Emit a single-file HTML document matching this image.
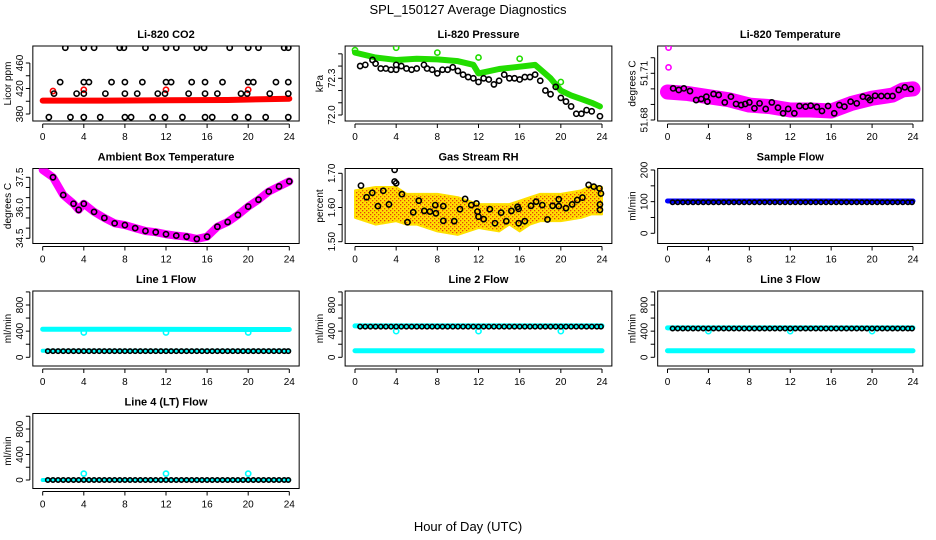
<!DOCTYPE html>
<html><head><meta charset="utf-8"><style>
html,body{margin:0;padding:0;background:#fff}
svg{display:block;font-family:"Liberation Sans",Arial,sans-serif}
</style></head><body>
<svg id="chart" width="936" height="540" viewBox="0 0 936 540">
<defs>
<pattern id="rhpat" width="4" height="4" patternUnits="userSpaceOnUse"><rect width="4" height="4" fill="#ffe000"/><rect x="0" y="0" width="1.3" height="1.3" fill="#e8400a"/><rect x="2" y="2" width="1.3" height="1.3" fill="#e8400a"/></pattern>
</defs>
<text x="468" y="14" font-size="13" text-anchor="middle">SPL_150127  Average Diagnostics</text>
<text x="468" y="531" font-size="13" text-anchor="middle">Hour of Day (UTC)</text>
</svg>
<script>
// ---- data ----
const xTicks=[0,4,8,12,16,20,24];
const co2BandH=[0,6,12,18,24];
const co2BandV=[401,401,401.5,402,404];
const co2RedH=[1,4,12,20];
const co2RedV=[416,418,418,418];
const co2BlkH=[2.2,4,5,7.5,7.9,10,12,13,15,15.7,18.2,20,21,23.5,23.9,1.7,4,4.5,6.7,8,9.7,12,12.5,14.5,15.8,17.5,20,20.5,22.7,23.9,1.1,3.3,4,6.1,8,9.2,11.2,11.9,14.2,15.8,17,19.3,19.9,22.1,23.9,0.6,2.7,4,5.6,8,8.6,10.7,11.9,13.6,15.8,16.5,18.7,20,21.7,23.9];
const co2BlkV=[484,484,484,484,484,484,484,484,484,484,484,484,484,484,484,430,430,430,430,430,430,430,430,430,430,430,430,430,430,430,412,412,412,412,412,412,412,412,412,412,412,412,412,412,412,375,375,375,375,375,375,375,375,375,375,375,375,375,375,375];
const presBandH=[0,2,4,6,8,10,11.5,12,14,16,17.5,19,20,21,22,23,23.8];
const presBandV=[72.51,72.47,72.45,72.46,72.455,72.44,72.41,72.34,72.376,72.395,72.41,72.3,72.2,72.16,72.13,72.1,72.07];
const presGrnH=[0,4,8,12,16,20];
const presGrnV=[72.53,72.55,72.51,72.47,72.46,72.27];
const presBlkH=[0.5,1,1.7,2,2.5,3,3.5,4,4,4.5,5,5.5,6,6.7,7,7.5,8,8.5,9,9.5,10,10.5,11,11.5,12,12.5,13,13.5,14,14.5,15,15.5,16,16.5,17,17.5,18,18.5,19,19.5,20,20.5,21,21.5,22,22.5,23,23.8];
const presBlkV=[72.4,72.41,72.45,72.42,72.38,72.38,72.37,72.41,72.37,72.4,72.38,72.37,72.38,72.41,72.38,72.37,72.34,72.37,72.37,72.39,72.36,72.33,72.31,72.3,72.27,72.3,72.29,72.25,72.28,72.33,72.3,72.3,72.29,72.31,72.31,72.33,72.28,72.2,72.17,72.23,72.14,72.11,72.07,72.01,72.01,72.04,72.03,71.99];
const tempBandH=[0,2,4,6,8,10,12,14,16,18,20,22,23,24];
const tempBandV=[51.698,51.697,51.695,51.693,51.6896,51.6886,51.6864,51.6864,51.6858,51.6907,51.694,51.696,51.6993,51.70];
const tempOutH=[0.1,0.1];
const tempOutV=[51.7265,51.7138];
const tempBlkH=[0.55,1.1,1.6,2.2,2.8,3.3,3.8,3.9,4.5,5,5.6,6.2,6.7,7.2,7.6,8,8.5,9,9.6,10.2,10.8,11.3,11.8,12.4,12.9,13.5,14,14.6,15.1,15.7,16.3,16.8,17.3,17.9,18.5,19.1,19.6,19.8,20.3,20.9,21.5,22,22.6,23.2,23.8];
const tempBlkV=[51.7003,51.6993,51.7003,51.6986,51.6928,51.6935,51.695,51.6918,51.6967,51.6961,51.6913,51.695,51.6903,51.6896,51.6903,51.6913,51.6875,51.6907,51.6871,51.6913,51.6879,51.6843,51.6871,51.6843,51.689,51.6886,51.6892,51.6884,51.6858,51.689,51.6843,51.6896,51.6886,51.6918,51.6907,51.695,51.6943,51.6928,51.6956,51.6954,51.6954,51.6954,51.6993,51.701,51.6999];
const ambH=[0,1,2,3,3.5,4,5,6,7,8,9,10,11,12,13,14,15,16,17,18,19,20,21,22,23,24];
const ambV=[37.86,37.5,36.63,36.2,35.9,36.2,35.8,35.5,35.24,35.15,35.0,34.86,34.8,34.7,34.63,34.58,34.47,34.58,35.07,35.3,35.65,36.06,36.4,36.8,37.05,37.3];
const rhHiH=[0,2,4,5,6,8,10,12,14,15,16,17,18,20,22,23,24];
const rhHiV=[1.65,1.66,1.66,1.64,1.64,1.64,1.63,1.61,1.61,1.61,1.62,1.63,1.64,1.64,1.65,1.665,1.66];
const rhLoV=[1.57,1.55,1.56,1.55,1.55,1.53,1.52,1.54,1.53,1.55,1.53,1.55,1.56,1.56,1.57,1.58,1.58];
const rhBlkH=[0.58,1.13,1.68,2.23,2.75,3.3,3.85,3.85,4,4.56,5.1,5.66,6.2,6.73,7.28,7.8,7.86,8.58,8.58,9.64,10.2,10.7,11.3,11.8,11.9,12,12.5,13.1,13.6,14.2,14.7,15.2,15.8,15.9,15.9,16.5,17.1,17.6,18.2,18.7,19.2,19.8,19.8,20.5,21.1,21.6,22.1,22.7,23.2,23.75,23.9,23.8,23.8];
const rhBlkV=[1.664,1.63,1.643,1.604,1.649,1.609,1.676,1.71,1.671,1.639,1.557,1.586,1.62,1.59,1.588,1.607,1.583,1.604,1.561,1.56,1.595,1.625,1.607,1.612,1.588,1.573,1.566,1.595,1.554,1.585,1.56,1.59,1.602,1.554,1.596,1.56,1.605,1.617,1.607,1.565,1.605,1.624,1.604,1.598,1.609,1.622,1.629,1.666,1.661,1.656,1.641,1.609,1.593];
const halfH=[0.5,1,1.5,2,2.5,3,3.5,4,4.5,5,5.5,6,6.5,7,7.5,8,8.5,9,9.5,10,10.5,11,11.5,12,12.5,13,13.5,14,14.5,15,15.5,16,16.5,17,17.5,18,18.5,19,19.5,20,20.5,21,21.5,22,22.5,23,23.5,23.9];
const flatH=[0,24];
const sampleBandV=[102,102];
const sampleBlkV=Array(48).fill(98);
const l1HiV=[430,425];const l1LoV=[100,100];const l1BlkV=Array(48).fill(95);
const l2HiV=[480,480];const l2LoV=[100,100];const l2BlkV=Array(48).fill(470);
const l3HiV=[450,450];const l3LoV=[100,100];const l3BlkV=Array(48).fill(440);
const l4LoV=[0,0];const l4BlkV=Array(48).fill(0);
const dipH=[4,12,20];
const l1DipV=[380,380,380];const l23DipV=[400,400,400];const l4DipV=[100,100,100];
const co2Ticks=[380,400,420,440,460], co2Labels=["380","","420","","460"];
const presTicks=[72.0,72.1,72.2,72.3,72.4,72.5], presLabels=["72.0","","","72.3","",""];
const tempTicks=[51.68,51.69,51.70,51.71,51.72], tempLabels=["51.68","","","51.71",""];
const ambTicks=[34.5,35,35.5,36,36.5,37,37.5], ambLabels=["34.5","","","36.0","","","37.5"];
const rhTicks=[1.50,1.55,1.60,1.65,1.70], rhLabels=["1.50","","1.60","","1.70"];
const sfTicks=[0,50,100,150,200], sfLabels=["0","","100","","200"];
const flTicks=[0,200,400,600,800,1000], flLabels=["0","","400","","800",""];

// ---- layout ----
const NS="http://www.w3.org/2000/svg";
const svg=document.getElementById('chart');
const colX=[[42.7,289.3],[355,602],[667.5,913]];
const rowTop=[46,168.5,291,413.5], rowBot=[121,243.5,366,488.5];
function mk(tag,attrs,parent){const e=document.createElementNS(NS,tag);for(const k in attrs)e.setAttribute(k,attrs[k]);(parent||svg).appendChild(e);return e;}
function panel(name,col,row,title,ylab,v1,p1,v2,p2,ticks,labels){
  const g=mk('g',{});
  
  
  const [a,b]=colX[col];
  const X=h=>a+(b-a)*h/24;
  const Y=v=>p1+(p2-p1)*(v-v1)/(v2-v1);
  const L=X(-0.96),R=X(24.96),T=rowTop[row],B=rowBot[row];
  const box=mk('rect',{x:L,y:T,width:R-L,height:B-T,fill:'none',stroke:'#000','stroke-width':1},g);
  
  
  const t=mk('text',{x:(L+R)/2,y:T-8,'font-size':11,'font-weight':'bold','text-anchor':'middle'},g);t.textContent=title;
  
  
  const yl=mk('text',{x:0,y:0,'font-size':10,'text-anchor':'middle',transform:`translate(${L-22},${(T+B)/2}) rotate(-90)`},g);yl.textContent=ylab;
  
  
  const ax=mk('g',{stroke:'#000','stroke-width':1},g);
  
  
  mk('line',{x1:X(0),x2:X(24),y1:B+3,y2:B+3},ax);
  xTicks.forEach(h=>{mk('line',{x1:X(h),x2:X(h),y1:B+3,y2:B+7},ax);
    const tx=mk('text',{x:X(h),y:B+19,'font-size':10,'text-anchor':'middle',stroke:'none'},g);tx.textContent=h;
    
    });
  mk('line',{x1:L-3,x2:L-3,y1:Y(ticks[0]),y2:Y(ticks[ticks.length-1])},ax);
  ticks.forEach((v,i)=>{mk('line',{x1:L-3,x2:L-7,y1:Y(v),y2:Y(v)},ax);
    if(labels[i]){const ty=mk('text',{x:0,y:0,'font-size':10,'text-anchor':'middle',transform:`translate(${L-10},${Y(v)}) rotate(-90)`},g);ty.textContent=labels[i];
    
    }});
  const clip='c'+name;const cp=mk('clipPath',{id:clip},g);mk('rect',{x:L,y:T,width:R-L,height:B-T},cp);
  const d=mk('g',{'clip-path':`url(#${clip})`},g);
  return {X,Y,g:d};
}
function band(p,hs,vs,color,w,name){
  const pl=mk('polyline',{points:hs.map((h,i)=>p.X(h)+','+p.Y(vs[i])).join(' '),fill:'none',stroke:color,'stroke-width':w,'stroke-linejoin':'round','stroke-linecap':'round'},p.g);
  
  
}
function pts(p,hs,vs,color,name,r){
  hs.forEach((h,i)=>{const c=mk('circle',{cx:p.X(h),cy:p.Y(vs[i]),r:r||2.6,fill:'none',stroke:color,'stroke-width':1.6},p.g);
    
    });
}
function area(p,hs,hi,lo,name){
  const pp=hs.map((h,i)=>p.X(h)+','+p.Y(hi[i])).concat(hs.slice().reverse().map((h,j)=>p.X(h)+','+p.Y(lo[hs.length-1-j])));
  const pg=mk('polygon',{points:pp.join(' '),fill:'url(#rhpat)',stroke:'#ffe000','stroke-width':2,'stroke-linejoin':'round'},p.g);
  
  
}
// CO2
let p=panel('co2',0,0,'Li-820 CO2','Licor ppm',380,114,460,63,co2Ticks,co2Labels);
band(p,co2BandH,co2BandV,'#ff0000',6,'co2-minute-band');
pts(p,co2RedH,co2RedV,'#ff0000','co2-red-point');
pts(p,co2BlkH,co2BlkV,'#000','co2-average-point');
// Pressure
p=panel('pressure',1,0,'Li-820 Pressure','kPa',72.0,115,72.3,78.3,presTicks,presLabels);
band(p,presBandH,presBandV,'#22dd00',6,'pressure-minute-band');
pts(p,presGrnH,presGrnV,'#22dd00','pressure-green-point');
pts(p,presBlkH,presBlkV,'#000','pressure-average-point');
// Temperature
p=panel('temperature',2,0,'Li-820 Temperature','degrees C',51.68,120,51.71,73.3,tempTicks,tempLabels);
band(p,tempBandH,tempBandV,'#ff00ff',15,'temperature-minute-band');
pts(p,tempOutH,tempOutV,'#ff00ff','temperature-outlier');
pts(p,tempBlkH,tempBlkV,'#000','temperature-average-point');
// Ambient
p=panel('ambient',0,1,'Ambient Box Temperature','degrees C',34.5,238.3,37.5,177.3,ambTicks,ambLabels);
band(p,ambH,ambV,'#ff00ff',8,'ambient-minute-band');
pts(p,ambH.slice(1),ambV.slice(1),'#000','ambient-average-point');
// RH
p=panel('rh',1,1,'Gas Stream RH','percent',1.50,241.7,1.70,173.3,rhTicks,rhLabels);
area(p,rhHiH,rhHiV,rhLoV,'rh-minute-cloud');
pts(p,rhBlkH,rhBlkV,'#000','rh-average-point');
// Sample flow
p=panel('sample-flow',2,1,'Sample Flow','ml/min',0,233.3,200,170,sfTicks,sfLabels);
band(p,flatH,sampleBandV,'#0000ff',5,'sample-flow-band');
pts(p,halfH,sampleBlkV,'#000','sample-flow-point',2.2);
// Line 1
p=panel('line1',0,2,'Line 1 Flow','ml/min',0,357.3,800,305,flTicks,flLabels);
band(p,flatH,l1HiV,'#00ffff',5,'line1-high-band');
band(p,flatH,l1LoV,'#00ffff',4,'line1-low-band');
pts(p,dipH,l1DipV,'#00ffff','line1-dip-point');
pts(p,halfH,l1BlkV,'#000','line1-average-point',2.2);
// Line 2
p=panel('line2',1,2,'Line 2 Flow','ml/min',0,357.3,800,305,flTicks,flLabels);
band(p,flatH,l2HiV,'#00ffff',5,'line2-high-band');
band(p,flatH,l2LoV,'#00ffff',5,'line2-low-band');
pts(p,dipH,l23DipV,'#00ffff','line2-dip-point');
pts(p,halfH,l2BlkV,'#000','line2-average-point',2.2);
// Line 3
p=panel('line3',2,2,'Line 3 Flow','ml/min',0,357.3,800,305,flTicks,flLabels);
band(p,flatH,l3HiV,'#00ffff',5,'line3-high-band');
band(p,flatH,l3LoV,'#00ffff',5,'line3-low-band');
pts(p,dipH,l23DipV,'#00ffff','line3-dip-point');
pts(p,halfH,l3BlkV,'#000','line3-average-point',2.2);
// Line 4
p=panel('line4',0,3,'Line 4 (LT) Flow','ml/min',0,480,800,429,flTicks,flLabels);
band(p,flatH,l4LoV,'#00ffff',4,'line4-band');
pts(p,dipH,l4DipV,'#00ffff','line4-spike-point');
pts(p,halfH,l4BlkV,'#000','line4-average-point',2.2);
</script>
</body></html>
